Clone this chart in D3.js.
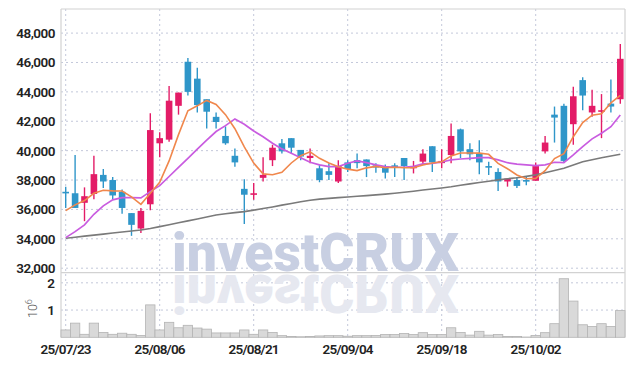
<!DOCTYPE html>
<html>
<head>
<meta charset="utf-8">
<script src="https://cdn.jsdelivr.net/npm/d3@7"></script>
<style>
html, body { margin: 0; padding: 0; background: #fff; }
#chart { width: 634px; height: 366px; }
</style>
</head>
<body>
<div id="chart"></div>
<script>
var TEXTFONT = 'Roboto';
var DIVSELECTOR = '#chart';
var WIDTH = 634;
var HEIGHT = 366;
var PLOT = { 'left' : 61, 'right' : 625, 'top' : 9, 'split' : 272.6, 'bottom' : 337.3 };

var dates = ['25/07/23', '25/07/24', '25/07/25', '25/07/28', '25/07/29', '25/07/30', '25/07/31', '25/08/01', '25/08/04', '25/08/05',
             '25/08/06', '25/08/07', '25/08/08', '25/08/11', '25/08/12', '25/08/13', '25/08/14', '25/08/18', '25/08/19', '25/08/20',
             '25/08/21', '25/08/22', '25/08/25', '25/08/26', '25/08/27', '25/08/28', '25/08/29', '25/09/01', '25/09/02', '25/09/03',
             '25/09/04', '25/09/05', '25/09/08', '25/09/09', '25/09/10', '25/09/11', '25/09/12', '25/09/15', '25/09/16', '25/09/17',
             '25/09/18', '25/09/19', '25/09/22', '25/09/23', '25/09/24', '25/09/25', '25/09/26', '25/09/29', '25/09/30', '25/10/01',
             '25/10/02', '25/10/10', '25/10/13', '25/10/14', '25/10/15', '25/10/16', '25/10/17', '25/10/20', '25/10/21', '25/10/22'];
var opens = [37200, 37100, 36450, 37050, 38350, 38000, 37200, 35750, 34700, 36350,
             40500, 40750, 43050, 46050, 44900, 43500, 42300, 41000, 39650, 37400,
             37000, 38150, 39350, 40500, 40850, 40050, 39500, 38800, 38600, 37900,
             39200, 39350, 39400, 39000, 38900, 39000, 39500, 38800, 39250, 40300,
             39150, 39700, 41450, 40100, 39800, 38950, 38550, 37900, 38000, 38000,
             37950, 39950, 42450, 43050, 41800, 44800, 42600, 42650, 43200, 43500];
var highs = [37550, 39700, 37500, 39650, 38750, 38200, 37350, 35750, 36100, 42550,
             41250, 44400, 43950, 46300, 45650, 43500, 42600, 41650, 40150, 38050,
             37800, 39550, 40400, 40800, 40850, 40050, 40150, 39050, 39150, 39350,
             39350, 39800, 39400, 39150, 39050, 39150, 39500, 39300, 40100, 40300,
             40100, 41850, 41500, 40500, 40700, 39250, 38800, 38100, 38200, 38250,
             39200, 41000, 43000, 43200, 44350, 45000, 44150, 43850, 44850, 47250];
var lows = [36100, 36100, 35200, 36700, 37450, 36700, 35700, 34200, 34400, 35950,
            39550, 40600, 42450, 43750, 42600, 41500, 41500, 40400, 38900, 35000,
            36650, 37900, 38950, 39800, 39800, 39350, 39150, 37850, 38000, 37800,
            38550, 38800, 38200, 38500, 38100, 38200, 38000, 38450, 39050, 38550,
            38800, 39150, 39500, 39350, 38400, 38350, 37250, 37550, 37450, 37650,
            37950, 39800, 40550, 39200, 40400, 42750, 42300, 40850, 42600, 43200];
var closes = [37150, 36100, 36900, 38400, 37900, 36950, 36100, 34950, 35900, 41400,
              40850, 43400, 43950, 44000, 43100, 42650, 41950, 40500, 39200, 37000,
              37100, 38350, 40200, 39950, 40200, 39600, 39650, 38000, 38350, 38950,
              38750, 39150, 38950, 38850, 38500, 38900, 38950, 38950, 39800, 39200,
              39300, 41000, 39950, 39750, 39200, 38900, 37900, 38100, 37600, 37950,
              38950, 40550, 42250, 39300, 43700, 43750, 43050, 42750, 43000, 46250];
var volumes = [270000, 520000, 110000, 520000, 180000, 110000, 150000, 110000, 70000, 1190000,
               270000, 550000, 350000, 440000, 340000, 300000, 160000, 160000, 160000, 270000,
               110000, 270000, 180000, 60000, 30000, 20000, 30000, 50000, 60000, 60000,
               40000, 60000, 60000, 70000, 100000, 100000, 140000, 100000, 170000, 100000,
               100000, 350000, 180000, 80000, 220000, 80000, 100000, 30000, 30000, 10000,
               70000, 170000, 500000, 2150000, 1330000, 460000, 400000, 500000, 400000, 980000];
var ma5 = [35920, 36310, 36600, 37100, 37300, 37260, 37250, 36850, 36350, 37100,
           37840, 39300, 41090, 42710, 43050, 43420, 43140, 42450, 41490, 40260,
           39150, 38420, 38360, 38520, 39160, 39660, 39920, 39480, 39160, 38910,
           38740, 38640, 38830, 38930, 38840, 38870, 38840, 38840, 39020, 39160,
           39240, 39640, 39840, 39840, 39830, 39750, 39130, 38770, 38340, 38090,
           38110, 38640, 39460, 39800, 40950, 41910, 42410, 42510, 43250, 43760];
var ma20 = [34080, 34490, 34950, 35670, 36240, 36650, 36800, 36800, 36780, 37210,
            37620, 38240, 38860, 39480, 40100, 40710, 41300, 41700, 42160, 41800,
            41340, 40950, 40500, 40120, 39820, 39520, 39210, 39030, 38910, 38910,
            39140, 39300, 39180, 39030, 38910, 38870, 38870, 38940, 39100, 39140,
            39230, 39370, 39430, 39480, 39520, 39520, 39370, 39180, 39080, 39030,
            38980, 39030, 39210, 39180, 39710, 40280, 40800, 41180, 41630, 42430];
var ma60 = [34040, 34110, 34180, 34250, 34320, 34390, 34460, 34530, 34600, 34700,
            34830, 34960, 35090, 35220, 35350, 35480, 35620, 35700, 35780, 35850,
            35950, 36060, 36170, 36290, 36400, 36520, 36620, 36700, 36750, 36800,
            36850, 36900, 36940, 36990, 37040, 37100, 37170, 37240, 37320, 37390,
            37460, 37540, 37640, 37740, 37830, 37920, 38010, 38090, 38160, 38250,
            38350, 38500, 38650, 38800, 39020, 39250, 39380, 39520, 39640, 39760];

var priceTicks = [32000, 34000, 36000, 38000, 40000, 42000, 44000, 46000, 48000];
var volumeTicks = [1000000, 2000000];
var dateTicks = ['25/07/23', '25/08/06', '25/08/21', '25/09/04', '25/09/18', '25/10/02'];

var UP = '#e31c67';
var DOWN = '#2f96c9';
var GRID = '#c3c8da';

/** Add dotted grid line. */
function addGridLine(grp, x1, y1, x2, y2) {
    return grp.append('line').attr('x1', x1).attr('x2', x2).attr('y1', y1).attr('y2', y2)
        .attr('stroke', GRID).attr('stroke-width', 1).attr('stroke-dasharray', '2 3');
};
/** Add the watermark, and its mirror image clipped below the split line. */
function addWatermark(svg) {
    svg.append('defs').append('clipPath').attr('id', 'below-split')
        .append('rect').attr('x', 0).attr('y', PLOT.split).attr('width', WIDTH).attr('height', 80);
    var wm = svg.append('g').style('font-family', TEXTFONT).style('font-weight', '900');
    wm.append('text').text('investCRUX').attr('x', 172).attr('y', 271)
        .attr('textLength', 287).attr('lengthAdjust', 'spacingAndGlyphs')
        .style('font-size', '53px').attr('fill', '#c8cfe2');
    return wm.append('g').attr('clip-path', 'url(#below-split)').append('text').text('investCRUX')
        .attr('x', 172).attr('y', 271)
        .attr('transform', 'translate(0,' + (2 * PLOT.split + 1) + ') scale(1,-1)')
        .attr('textLength', 287).attr('lengthAdjust', 'spacingAndGlyphs')
        .style('font-size', '53px').attr('fill', '#e6e8f0');
};

window.addEventListener('DOMContentLoaded', function () {
    var svg = d3.select(DIVSELECTOR).append('svg').attr('width', WIDTH).attr('height', HEIGHT)
        .style('font-family', TEXTFONT);
    var xScale = d3.scaleBand().domain(dates).range([PLOT.left, PLOT.right]).padding(0);
    var bw = xScale.bandwidth();
    var cx = function (d) { return xScale(d) + bw / 2; };
    var yPrice = d3.scaleLinear().domain([31700, 49640]).range([PLOT.split, PLOT.top]);
    var yVol = d3.scaleLinear().domain([0, 2375000]).range([PLOT.bottom, PLOT.split]);

    // grid
    var grid = svg.append('g');
    priceTicks.forEach(function (t) {
        addGridLine(grid, PLOT.left, yPrice(t), PLOT.right, yPrice(t));
    });
    volumeTicks.forEach(function (t) {
        addGridLine(grid, PLOT.left, yVol(t), PLOT.right, yVol(t));
    });
    dateTicks.forEach(function (d) {
        addGridLine(grid, cx(d), PLOT.top, cx(d), PLOT.bottom);
    });

    addWatermark(svg);

    // frame
    var frame = svg.append('g').attr('stroke', '#d2d2d2').attr('stroke-width', 1.2);
    frame.append('line').attr('x1', PLOT.left).attr('x2', PLOT.right).attr('y1', PLOT.top).attr('y2', PLOT.top);
    frame.append('line').attr('x1', PLOT.left).attr('x2', PLOT.left).attr('y1', PLOT.top).attr('y2', PLOT.bottom);
    frame.append('line').attr('x1', PLOT.right).attr('x2', PLOT.right).attr('y1', PLOT.top).attr('y2', PLOT.bottom);
    frame.append('line').attr('x1', PLOT.left).attr('x2', PLOT.right).attr('y1', PLOT.split).attr('y2', PLOT.split);

    // volume bars
    svg.append('g').selectAll('rect').data(volumes).enter().append('rect')
        .attr('x', function (d, i) { return xScale(dates[i]); })
        .attr('width', bw)
        .attr('y', function (d) { return yVol(d); })
        .attr('height', function (d) { return PLOT.bottom - yVol(d); })
        .attr('fill', '#d9d9d9').attr('stroke', '#b3b3b3').attr('stroke-width', 0.8);

    // candles
    var candles = svg.append('g').selectAll('g').data(dates).enter().append('g');
    var colorOf = function (i) { return closes[i] >= opens[i] ? UP : DOWN; };
    candles.append('line')
        .attr('x1', function (d) { return cx(d); }).attr('x2', function (d) { return cx(d); })
        .attr('y1', function (d, i) { return yPrice(highs[i]); })
        .attr('y2', function (d, i) { return yPrice(lows[i]); })
        .attr('stroke', function (d, i) { return colorOf(i); }).attr('stroke-width', 1.4);
    candles.append('rect')
        .attr('x', function (d) { return cx(d) - 3.3; }).attr('width', 6.6)
        .attr('y', function (d, i) { return yPrice(Math.max(opens[i], closes[i])); })
        .attr('height', function (d, i) {
            return Math.max(1.6, Math.abs(yPrice(opens[i]) - yPrice(closes[i])));
        })
        .attr('fill', function (d, i) { return colorOf(i); });

    // moving averages
    var lineOf = d3.line().x(function (d, i) { return cx(dates[i]); }).y(function (d) { return yPrice(d); });
    svg.append('path').datum(ma60).attr('d', lineOf).attr('fill', 'none').attr('stroke', '#7a7a7a').attr('stroke-width', 1.6);
    svg.append('path').datum(ma20).attr('d', lineOf).attr('fill', 'none').attr('stroke', '#c95ce0').attr('stroke-width', 1.7);
    svg.append('path').datum(ma5).attr('d', lineOf).attr('fill', 'none').attr('stroke', '#f0874c').attr('stroke-width', 1.6);

    // axis labels
    var labels = svg.append('g').attr('fill', '#222').style('font-size', '13.5px').style('font-weight', '600');
    priceTicks.forEach(function (t) {
        labels.append('text').text(d3.format(',')(t)).attr('x', 55).attr('y', yPrice(t) + 5)
            .attr('text-anchor', 'end').attr('letter-spacing', '-0.5');
    });
    volumeTicks.forEach(function (t) {
        labels.append('text').text(t / 1e6).attr('x', 55).attr('y', yVol(t) + 5).attr('text-anchor', 'end');
    });
    dateTicks.forEach(function (d) {
        labels.append('text').text(d).attr('x', cx(d)).attr('y', 354)
            .attr('text-anchor', 'middle').attr('letter-spacing', '-0.8');
    });
    var unit = svg.append('text').attr('transform', 'translate(37,318) rotate(-90)')
        .attr('fill', '#555').style('font-size', '12.5px').style('font-weight', '300');
    unit.append('tspan').text('10');
    unit.append('tspan').text('6').attr('dy', -5).style('font-size', '9px');
});
</script>
</body>
</html>
